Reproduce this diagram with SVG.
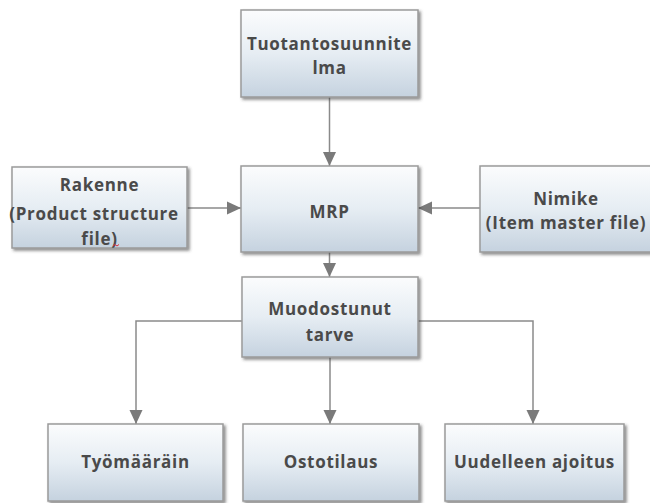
<svg xmlns="http://www.w3.org/2000/svg" width="650" height="503" viewBox="0 0 650 503">
  <defs>
    <linearGradient id="boxFill" x1="0" y1="0" x2="0" y2="1">
      <stop offset="0" stop-color="#fbfcfd"/>
      <stop offset="0.5" stop-color="#e6edf3"/>
      <stop offset="1" stop-color="#c5d2df"/>
    </linearGradient>
    <filter id="shadow" x="-10%" y="-10%" width="125%" height="130%">
      <feDropShadow dx="2" dy="2" stdDeviation="1.4" flood-color="#3a3a3a" flood-opacity="0.6"/>
    </filter>
    <marker id="arrow" markerUnits="userSpaceOnUse" markerWidth="15" markerHeight="14" refX="14" refY="7" orient="auto">
      <path d="M0,0.5 L14,7 L0,13.5 z" fill="#7a7a7a"/>
    </marker>
    <style>
      .box { fill: url(#boxFill); stroke: #9a9a9a; stroke-width: 1.5; filter: url(#shadow); }
      .label { font-family: "Open Sans", "Liberation Sans", sans-serif; font-weight: bold; font-size: 17px; fill: #4a4a4a; text-anchor: middle; letter-spacing: 0.7px; }
      .conn { fill: none; stroke: #8a8a8a; stroke-width: 1.5; marker-end: url(#arrow); }
    </style>
  </defs>

  <rect width="650" height="503" fill="#ffffff"/>

  <!-- connectors -->
  <g id="connectors">
    <path class="conn" d="M329.5,97 V166"/>
    <path class="conn" d="M187,208 H241"/>
    <path class="conn" d="M480,208 H418"/>
    <path class="conn" d="M329.5,252 V277"/>
    <path class="conn" d="M242,321 H136 V424"/>
    <path class="conn" d="M330,357 V424"/>
    <path class="conn" d="M418,321 H533 V424"/>
  </g>

  <g id="tuotantosuunnitelma">
    <rect class="box" x="241" y="10" width="177" height="87"/>
    <text class="label" x="329.5" y="50">Tuotantosuunnite</text>
    <text class="label" x="329.5" y="74">lma</text>
  </g>

  <g id="rakenne">
    <rect class="box" x="12" y="167" width="175" height="81"/>
    <text class="label" x="99.5" y="191">Rakenne</text>
    <text class="label" x="94" y="220">(Product structure</text>
    <text class="label" x="99.5" y="245">file)</text>
    <path d="M113,246 l2,-1.5 l2,1.5 l2,-1.5" fill="none" stroke="#e0303a" stroke-width="1"/>
  </g>

  <g id="mrp">
    <rect class="box" x="241" y="166" width="177" height="86"/>
    <text class="label" x="329.5" y="218">MRP</text>
  </g>

  <g id="nimike">
    <rect class="box" x="480" y="166" width="180" height="86"/>
    <text class="label" x="566" y="205">Nimike</text>
    <text class="label" x="566" y="229">(Item master file)</text>
  </g>

  <g id="muodostunut-tarve">
    <rect class="box" x="242" y="277" width="176" height="80"/>
    <text class="label" x="330" y="315">Muodostunut</text>
    <text class="label" x="330" y="341">tarve</text>
  </g>

  <g id="tyomaarain">
    <rect class="box" x="48" y="424" width="175" height="77"/>
    <text class="label" x="135.5" y="468">Työmääräin</text>
  </g>

  <g id="ostotilaus">
    <rect class="box" x="243" y="424" width="176" height="77"/>
    <text class="label" x="331" y="468">Ostotilaus</text>
  </g>

  <g id="uudelleen-ajoitus">
    <rect class="box" x="445" y="424" width="179" height="77"/>
    <text class="label" x="534.5" y="468">Uudelleen ajoitus</text>
  </g>
</svg>
